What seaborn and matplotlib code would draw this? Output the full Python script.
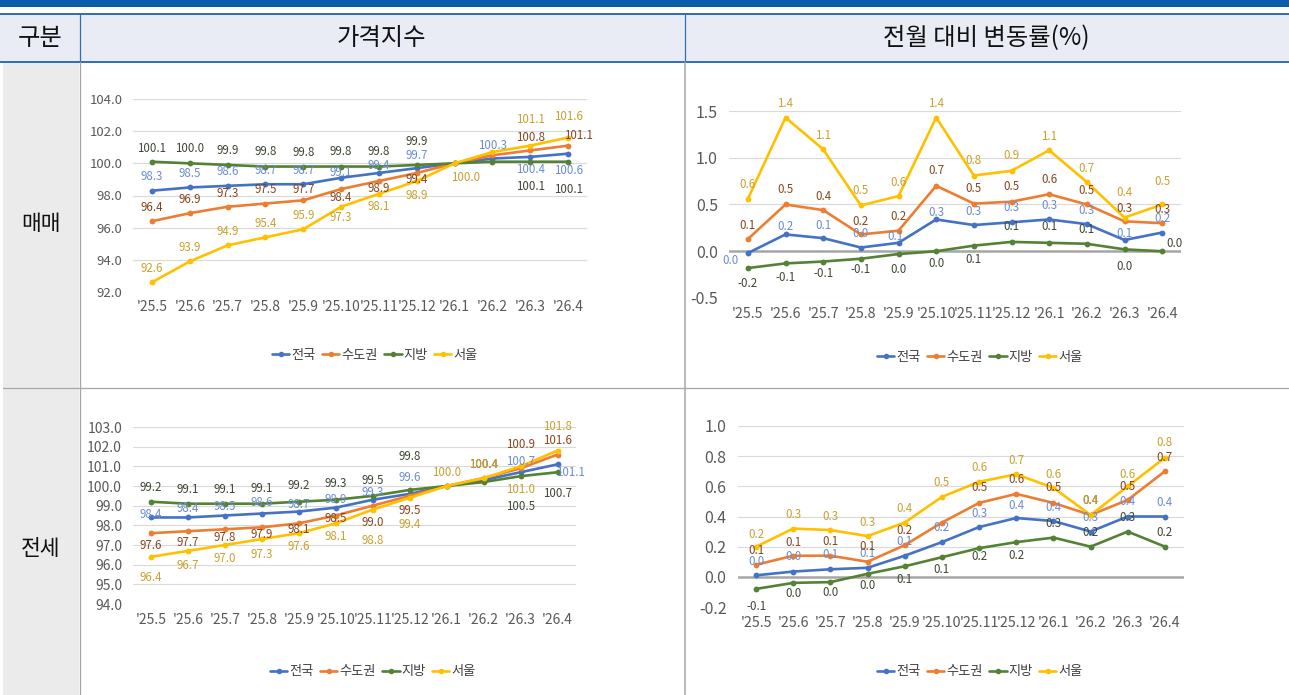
import numpy as np
import pandas as pd
import matplotlib
matplotlib.use("Agg")
import matplotlib.pyplot as plt
import seaborn as sns
from matplotlib.patches import Rectangle
from matplotlib.lines import Line2D

# ---------------- data ----------------
months = ["'25.5", "'25.6", "'25.7", "'25.8", "'25.9", "'25.10", "'25.11", "'25.12",
          "'26.1", "'26.2", "'26.3", "'26.4"]
series_names = ["전국", "수도권", "지방", "서울"]

# 매매 가격지수
sale_idx_nation = [98.3, 98.5, 98.6, 98.7, 98.7, 99.1, 99.4, 99.7, 100.0, 100.3, 100.4, 100.6]
sale_idx_capital = [96.4, 96.9, 97.3, 97.5, 97.7, 98.4, 98.9, 99.4, 100.0, 100.5, 100.8, 101.1]
sale_idx_local = [100.1, 100.0, 99.9, 99.8, 99.8, 99.8, 99.8, 99.9, 100.0, 100.1, 100.1, 100.1]
sale_idx_seoul = [92.6, 93.9, 94.9, 95.4, 95.9, 97.3, 98.1, 98.9, 100.0, 100.7, 101.1, 101.6]

# 매매 전월 대비 변동률
sale_chg_nation = [-0.02, 0.18, 0.14, 0.04, 0.09, 0.34, 0.28, 0.31, 0.34, 0.29, 0.12, 0.20]
sale_chg_capital = [0.13, 0.50, 0.44, 0.18, 0.22, 0.70, 0.51, 0.53, 0.61, 0.50, 0.32, 0.30]
sale_chg_local = [-0.18, -0.13, -0.11, -0.08, -0.03, 0.00, 0.06, 0.10, 0.09, 0.08, 0.02, 0.00]
sale_chg_seoul = [0.56, 1.43, 1.09, 0.49, 0.59, 1.43, 0.81, 0.86, 1.08, 0.74, 0.36, 0.50]

# 전세 가격지수
rent_idx_nation = [98.4, 98.4, 98.5, 98.6, 98.7, 98.9, 99.3, 99.6, 100.0, 100.3, 100.7, 101.1]
rent_idx_capital = [97.6, 97.7, 97.8, 97.9, 98.1, 98.5, 99.0, 99.5, 100.0, 100.4, 100.9, 101.6]
rent_idx_local = [99.2, 99.1, 99.1, 99.1, 99.2, 99.3, 99.5, 99.8, 100.0, 100.2, 100.5, 100.7]
rent_idx_seoul = [96.4, 96.7, 97.0, 97.3, 97.6, 98.1, 98.8, 99.4, 100.0, 100.4, 101.0, 101.8]

# 전세 전월 대비 변동률
rent_chg_nation = [0.01, 0.035, 0.05, 0.06, 0.14, 0.23, 0.33, 0.39, 0.37, 0.30, 0.40, 0.40]
rent_chg_capital = [0.08, 0.14, 0.14, 0.10, 0.21, 0.36, 0.49, 0.55, 0.49, 0.41, 0.51, 0.70]
rent_chg_local = [-0.08, -0.04, -0.035, 0.02, 0.07, 0.13, 0.19, 0.23, 0.26, 0.20, 0.30, 0.20]
rent_chg_seoul = [0.20, 0.32, 0.31, 0.27, 0.36, 0.53, 0.63, 0.68, 0.59, 0.41, 0.60, 0.79]

# ---------------- styling ----------------
line_colors = ["#4472C4", "#ED7D31", "#548235", "#FFC000"]
label_colors = ["#6B8CD3", "#86451E", "#3E4733", "#C9A12E"]

# label offsets in pixels (dy up positive, or (dx, dy)); None = hidden
off_p1 = [
    [14, 14, 14, 14, 14, 5, 7, 13, None, 13, -13, -17],
    [14, 14, 13, 14, 11, -8, -7, -7, None, None, 13, (10, 10)],
    [13, 15, 14, 15, 14, 15, 15, 23, None, None, -25, -28],
    [14, 14, 14, 14, 14, -11, -13, -14, (11, -14), None, 26, 21],
]
off_p2 = [
    [(-17, -7), 8, 13, 14, (-3, 6), 7, 14, 15, 14, 14, 7, 14],
    [14, 15, 14, 13, 14, 15, 15, 15, 15, 14, 13, 14],
    [-15, -14, -12, -11, -15, -12, -14, 15, 16, 14, -17, (12, 8)],
    [14, 14, 14, 15, 14, 14, 15, 15, 14, 14, 25, 23],
]
off_p3 = [
    [3, 9, 9, 11, 7, 8, 7, 16, None, None, 11, (13, -8)],
    [-12, -11, -8, -7, -6, -3, -17, -15, None, 14, 24, 14],
    [14, 14, 14, 15, 16, 16, 15, 33, None, None, -30, -21],
    [-21, -15, -13, -15, -13, -13, -31, -27, 14, 14, -23, 24],
]
off_p4 = [
    [14, 15, 15, 14, 14, 15, 14, 13, 14, 14, 15, 14],
    [14, 13, 14, 15, 15, None, 15, 14, 15, 14, 13, 14],
    [-18, -11, -10, -12, -13, -12, -8, -13, 14, 14, 14, 14],
    [12, 14, 14, 14, 14, 14, 14, 14, 13, 14, 12, 15],
]

sns.set_theme(style="white")
plt.rcParams["font.family"] = ["Noto Sans CJK KR", "DejaVu Sans"]
plt.rcParams["axes.unicode_minus"] = True

W, H = 1289, 695
fig = plt.figure(figsize=(W / 100, H / 100), dpi=100)

# ---------------- table background ----------------
bg = fig.add_axes([0, 0, 1, 1])
bg.set_xlim(0, W)
bg.set_ylim(H, 0)
bg.axis("off")
blue = "#2F6DB5"
grey = "#A6A6A6"
bg.add_patch(Rectangle((0, 0), W, 7, color="#0B5CAA", lw=0))
bg.add_patch(Rectangle((0, 13), W, 49, color="#E9ECF5", lw=0))
bg.add_patch(Rectangle((3, 62), 76, H - 62, color="#EBEBEB", lw=0))
bg.plot([0, W], [13.5, 13.5], color=blue, lw=1.4)
bg.plot([0, W], [61.5, 61.5], color=blue, lw=1.4)
bg.plot([79.5, 79.5], [13.5, 61.5], color=blue, lw=0.9)
bg.plot([684.5, 684.5], [13.5, 61.5], color=blue, lw=0.9)
bg.plot([79.5, 79.5], [62, H], color=grey, lw=0.9)
bg.plot([684.5, 684.5], [62, H], color=grey, lw=1.1)
bg.plot([3, W], [387.5, 387.5], color=grey, lw=0.9)
bg.text(40, 38, "구분", ha="center", va="center", fontsize=17.5, color="#111111")
bg.text(381, 38, "가격지수", ha="center", va="center", fontsize=17.5, color="#111111")
bg.text(986, 38, "전월 대비 변동률(%)", ha="center", va="center", fontsize=17.5, color="#111111")
bg.text(41, 224, "매매", ha="center", va="center", fontsize=15.5, color="#111111")
bg.text(41, 549, "전세", ha="center", va="center", fontsize=15.5, color="#111111")


def add_ax(l, r, t, b):
    return fig.add_axes([l / W, 1 - b / H, (r - l) / W, (b - t) / H])


def fmt_label(v):
    s = f"{v:.1f}"
    return "0.0" if s == "-0.0" else s


def draw(ax, series, ylim, yticks, offsets, ytick_fs, xtick_fs, ypad, xpad, zero_line, legend_xy):
    df = pd.DataFrame({
        "x": np.tile(np.arange(len(months)), len(series_names)),
        "y": np.concatenate([np.asarray(s, dtype=float) for s in series]),
        "series": np.repeat(series_names, len(months)),
    })
    ax.set_axisbelow(True)
    ax.grid(axis="y", color="#D9D9D9", lw=0.8)
    ax.grid(axis="x", visible=False)
    if zero_line:
        ax.axhline(0, color="#A6A6A6", lw=1.8, zorder=1.5)
    sns.lineplot(data=df, x="x", y="y", hue="series", hue_order=series_names,
                 palette=line_colors, marker="o", markersize=4.2, markeredgewidth=0,
                 linewidth=1.9, ax=ax, legend=False, sort=False)
    for si, s in enumerate(series):
        for i, v in enumerate(s):
            o = offsets[si][i]
            if o is None:
                continue
            dx, dy = (0, o) if not isinstance(o, tuple) else o
            ax.annotate(fmt_label(v), (i, v), xytext=(dx * 0.72, dy * 0.72),
                        textcoords="offset points", ha="center", va="center",
                        fontsize=8.3, color=label_colors[si], annotation_clip=False,
                        zorder=5)
    ax.set_xlim(-0.5, len(months) - 0.5)
    ax.set_ylim(*ylim)
    ax.set_yticks(yticks)
    ax.set_yticklabels([f"{t:.1f}" for t in yticks])
    ax.set_xticks(np.arange(len(months)))
    ax.set_xticklabels(months)
    ax.tick_params(axis="y", length=0, pad=ypad, labelsize=ytick_fs, colors="#595959")
    ax.tick_params(axis="x", length=0, pad=xpad, labelsize=xtick_fs, colors="#595959")
    ax.set_xlabel("")
    ax.set_ylabel("")
    for sp in ax.spines.values():
        sp.set_visible(False)
    ax.patch.set_alpha(0)
    handles = [Line2D([0], [0], color=c, lw=1.9, marker="o", markersize=4, markeredgewidth=0)
               for c in line_colors]
    fig.legend(handles, series_names, loc="center",
               bbox_to_anchor=(legend_xy[0] / W, 1 - legend_xy[1] / H),
               bbox_transform=fig.transFigure, ncol=4, frameon=False,
               fontsize=9.5, handlelength=1.3, handletextpad=0.15, columnspacing=0.5,
               labelcolor="#404040")


ax1 = add_ax(133, 587, 99, 292)
draw(ax1, [sale_idx_nation, sale_idx_capital, sale_idx_local, sale_idx_seoul],
     (92, 104), np.arange(92, 104.01, 2), off_p1, 9.5, 10, 7.5, 6, False, (375, 355))

ax2 = add_ax(729, 1181, 111, 298)
draw(ax2, [sale_chg_nation, sale_chg_capital, sale_chg_local, sale_chg_seoul],
     (-0.5, 1.5), np.arange(-0.5, 1.51, 0.5), off_p2, 11.5, 10.3, 8, 6.5, True, (980, 357))

ax3 = add_ax(132.5, 576, 427, 604)
draw(ax3, [rent_idx_nation, rent_idx_capital, rent_idx_local, rent_idx_seoul],
     (94, 103), np.arange(94, 103.01, 1), off_p3, 10, 10, 7.5, 6.5, False, (373, 672))

ax4 = add_ax(737.5, 1183.5, 426, 607)
draw(ax4, [rent_chg_nation, rent_chg_capital, rent_chg_local, rent_chg_seoul],
     (-0.2, 1.0), np.arange(-0.2, 1.001, 0.2), off_p4, 11.5, 10.3, 8, 6.5, True, (980, 672))

fig.savefig("out.png", dpi=100)
